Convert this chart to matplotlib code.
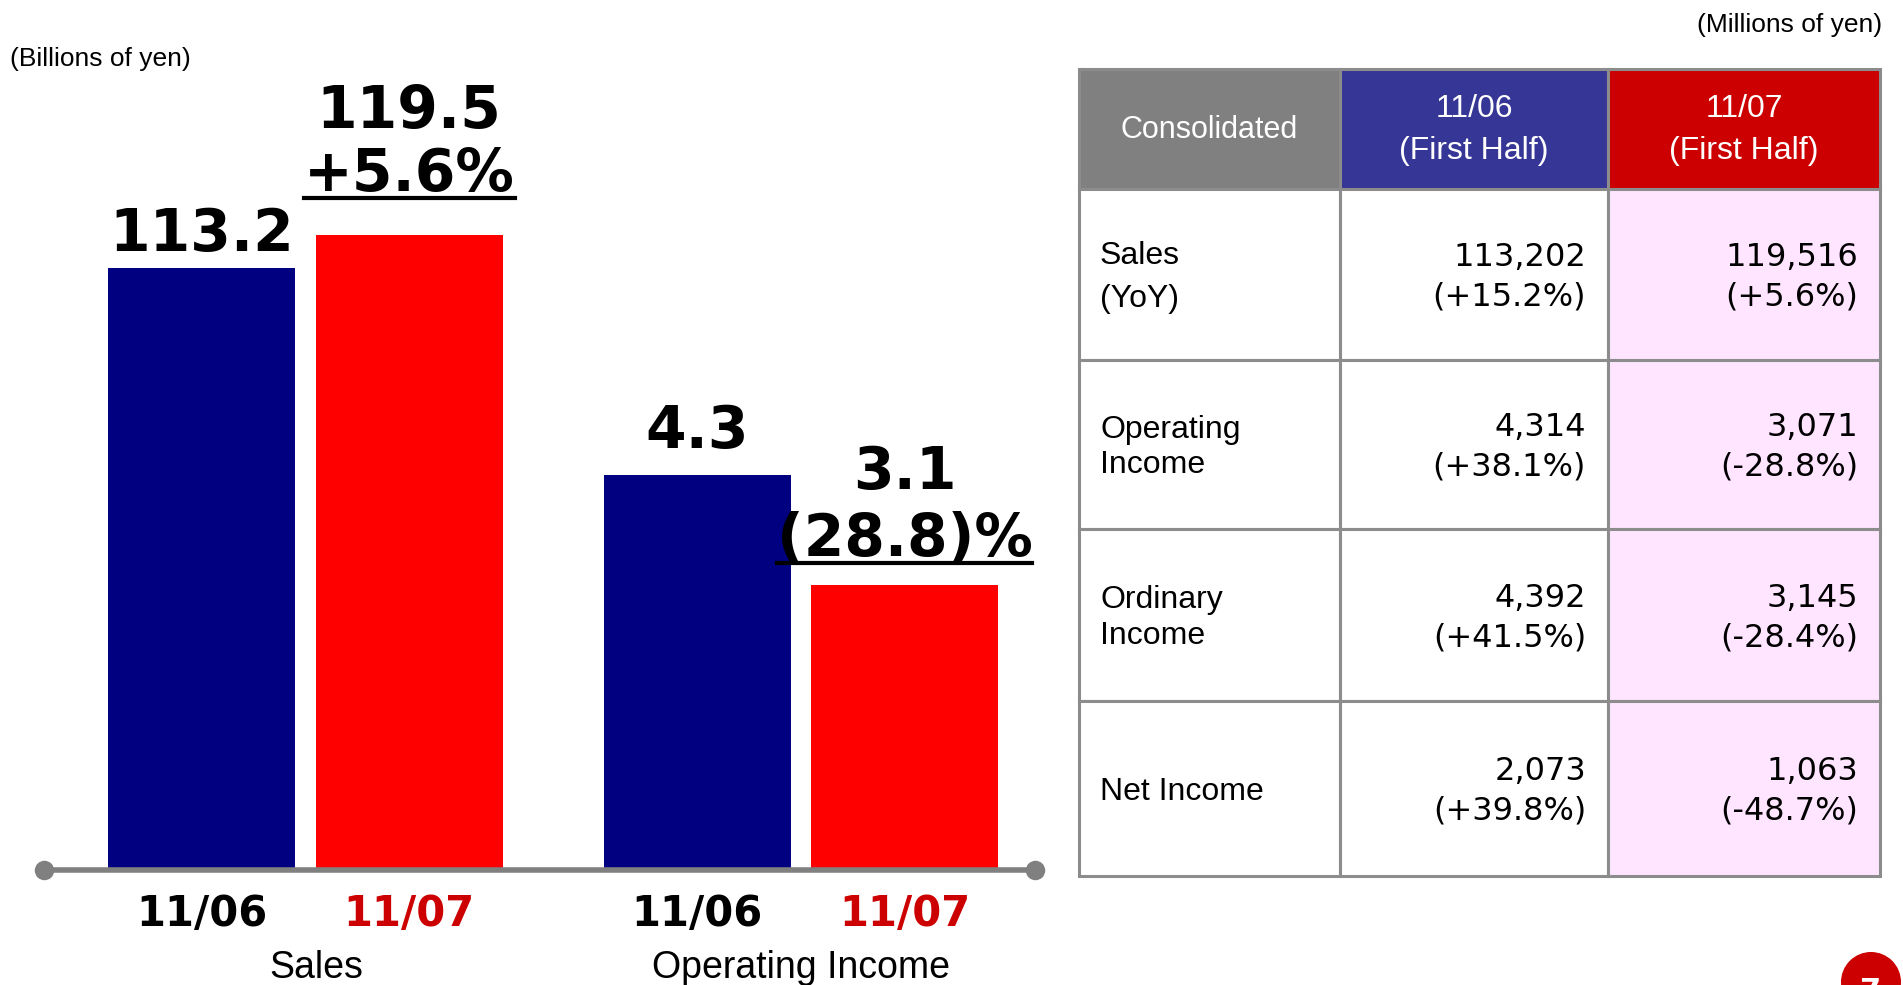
import matplotlib
matplotlib.use('Agg')
import matplotlib.pyplot as plt
from matplotlib.patches import Rectangle, Circle
from matplotlib.lines import Line2D

# chart data (billions of yen)
groups = ['Sales', 'Operating Income']
periods = ['11/06', '11/07']
vals_1106 = [113.2, 4.3]
vals_1107 = [119.5, 3.1]
changes = ['+5.6%', '(28.8)%']
ylims = [145, 8.41]   # each group has its own scale

# table data (millions of yen)
col_headers = ['Consolidated', '11/06\n(First Half)', '11/07\n(First Half)']
row_labels = ['Sales\n(YoY)', 'Operating\nIncome', 'Ordinary\nIncome', 'Net Income']
half_1106 = [113202, 4314, 4392, 2073]
half_1107 = [119516, 3071, 3145, 1063]
yoy_1106 = [15.2, 38.1, 41.5, 39.8]
yoy_1107 = [5.6, -28.8, -28.4, -48.7]

W, H = 1903, 985
NAVY = '#000080'
RED = '#FF0000'
DARKRED = '#CC0000'
BOLD = 'DejaVu Sans'
REG = ['Liberation Sans', 'DejaVu Sans']
NUM = 'DejaVu Sans'

# label offsets above bar tops, in pixels
off_1106 = [17, 27]
off_change = [44, 29]
off_1107 = [107, 96]
group_label_x = [0.55, 0.5]
label_spacing = [1.55, 1.25, 1.25, 1.25]

fig = plt.figure(figsize=(W / 100, H / 100), dpi=100)

# background axes in pixel coordinates for table and free text
bg = fig.add_axes([0, 0, 1, 1])
bg.set_xlim(0, W)
bg.set_ylim(H, 0)
bg.axis('off')


def px_axes(x0, y0, x1, y1):
    return fig.add_axes([x0 / W, 1 - y1 / H, (x1 - x0) / W, (y1 - y0) / H])


bg.text(10, 59, '(Billions of yen)', fontsize=19, family=REG, va='center', ha='left')
bg.text(1882, 25, '(Millions of yen)', fontsize=19, family=REG, va='center', ha='right')

# ---- bar charts ----
axes_px = [(44, 100, 540, 868), (540, 100, 1035, 868)]
underline_jobs = []
for i, g in enumerate(groups):
    ax = px_axes(*axes_px[i])
    ax.bar([0, 1], [vals_1106[i], vals_1107[i]], width=0.9, color=[NAVY, RED])
    ax.set_xlim(-0.76, 1.63)
    ax.set_ylim(0, ylims[i])
    for s in ax.spines.values():
        s.set_visible(False)
    ax.set_yticks([])
    ax.set_xticks([0, 1])
    ax.set_xticklabels(periods, fontsize=30, fontweight='bold', family=BOLD)
    ax.get_xticklabels()[1].set_color(DARKRED)
    ax.tick_params(axis='x', length=0, pad=18)
    ax.text(group_label_x[i], -0.130, g, transform=ax.get_xaxis_transform(), ha='center',
            va='center', fontsize=27, family=REG)

    ax.annotate(f'{vals_1106[i]:.1f}', (0, vals_1106[i]), xytext=(0, off_1106[i]),
                textcoords='offset pixels', ha='center', va='baseline',
                fontsize=42, fontweight='bold', family=BOLD, annotation_clip=False)
    t = ax.annotate(changes[i], (1, vals_1107[i]), xytext=(0, off_change[i]),
                    textcoords='offset pixels', ha='center', va='baseline',
                    fontsize=42, fontweight='bold', family=BOLD, annotation_clip=False)
    ax.annotate(f'{vals_1107[i]:.1f}', (1, vals_1107[i]), xytext=(0, off_1107[i]),
                textcoords='offset pixels', ha='center', va='baseline',
                fontsize=42, fontweight='bold', family=BOLD, annotation_clip=False)
    underline_jobs.append((ax, t, vals_1107[i], off_change[i]))

# baseline with round ends
fig.add_artist(Line2D([44 / W, 1035 / W], [1 - 870 / H, 1 - 870 / H], transform=fig.transFigure,
                      color='#808080', lw=4, marker='o', markersize=13,
                      solid_capstyle='butt', zorder=5))

# ---- table ----
col_x = [1079, 1340, 1608, 1880]
row_y = [69, 189, 360, 529, 701, 876]
head_colors = ['#808080', '#363696', '#CC0000']
edge = '#8c8c8c'

for c in range(3):
    bg.add_patch(Rectangle((col_x[c], row_y[0]), col_x[c + 1] - col_x[c], row_y[1] - row_y[0],
                           facecolor=head_colors[c], edgecolor=edge, lw=2.2))
    bg.text((col_x[c] + col_x[c + 1]) / 2, (row_y[0] + row_y[1]) / 2 + 1, col_headers[c],
            color='white', fontsize=23 if c else 22, family=REG, ha='center', va='center',
            linespacing=1.55)

for r, lab in enumerate(row_labels):
    y0, y1 = row_y[r + 1], row_y[r + 2]
    yc = (y0 + y1) / 2 + 3
    for c in range(3):
        fc = '#FFE5FF' if c == 2 else 'white'
        bg.add_patch(Rectangle((col_x[c], y0), col_x[c + 1] - col_x[c], y1 - y0,
                               facecolor=fc, edgecolor=edge, lw=2.2))
    bg.text(col_x[0] + 21, yc, lab, fontsize=23, family=REG, ha='left', va='center',
            linespacing=label_spacing[r])
    bg.text(col_x[2] - 22, yc, f'{half_1106[r]:,}\n({yoy_1106[r]:+.1f}%)', fontsize=23,
            family=NUM, ha='right', va='center', multialignment='right', linespacing=1.35)
    bg.text(col_x[3] - 22, yc, f'{half_1107[r]:,}\n({yoy_1107[r]:+.1f}%)', fontsize=23,
            family=NUM, ha='right', va='center', multialignment='right', linespacing=1.35)

# page badge
bg.add_patch(Circle((1871, 982), 30, facecolor=DARKRED, edgecolor='none'))
bg.text(1871, 991, '7', color='white', fontsize=22, fontweight='bold', family=BOLD,
        ha='center', va='center')

# underline the change labels
fig.canvas.draw()
rend = fig.canvas.get_renderer()
for ax, t, v, off in underline_jobs:
    bb = t.get_window_extent(rend)
    base_y = ax.transData.transform((1, v))[1] + off - 7
    x0, y0 = fig.transFigure.inverted().transform((bb.x0, base_y))
    x1, _ = fig.transFigure.inverted().transform((bb.x1, base_y))
    fig.add_artist(Line2D([x0, x1], [y0, y0], transform=fig.transFigure, color='black', lw=3))

fig.savefig('out.png', dpi=100)
